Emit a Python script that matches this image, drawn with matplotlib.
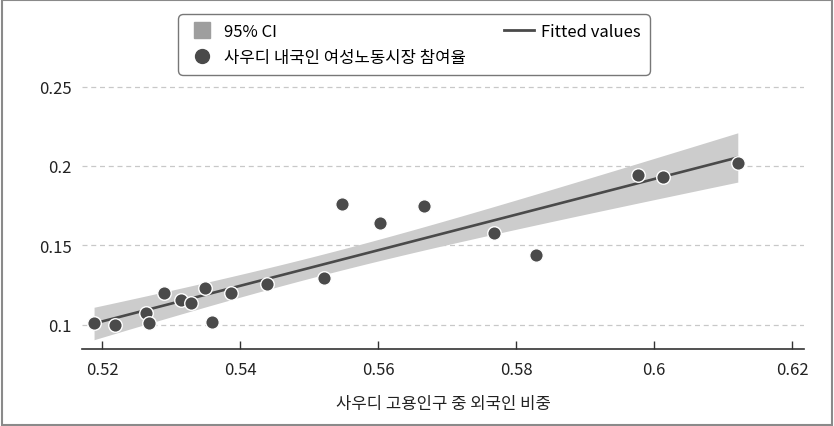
import numpy as np
import matplotlib
matplotlib.use('Agg')
import matplotlib.pyplot as plt
from matplotlib.lines import Line2D
from matplotlib.patches import Rectangle

plt.rcParams['font.family'] = ['Noto Sans CJK KR', 'DejaVu Sans']

# 사우디 고용인구 중 외국인 비중 / 사우디 내국인 여성노동시장 참여율
foreign_share = [0.5188, 0.5218, 0.5263, 0.5268, 0.5289, 0.5314, 0.5329, 0.5349, 0.5359, 0.5386,
                 0.5438, 0.5522, 0.5548, 0.5603, 0.5666, 0.5767, 0.5829, 0.5976, 0.6013, 0.6121]
female_lfp = [0.1011, 0.1000, 0.1076, 0.1009, 0.1199, 0.1152, 0.1136, 0.1233, 0.1013, 0.1197,
              0.1256, 0.1294, 0.1761, 0.1643, 0.1745, 0.1574, 0.1440, 0.1942, 0.1931, 0.2020]

xticks = [0.52, 0.54, 0.56, 0.58, 0.6, 0.62]
xtick_labels = ['0.52', '0.54', '0.56', '0.58', '0.6', '0.62']
yticks = [0.1, 0.15, 0.2, 0.25]
ytick_labels = ['0.1', '0.15', '0.2', '0.25']

x = np.array(foreign_share)
y = np.array(female_lfp)

# OLS fit and 95% CI of the mean prediction
n = len(x)
b1, b0 = np.polyfit(x, y, 1)
resid = y - (b0 + b1 * x)
s = np.sqrt(np.sum(resid ** 2) / (n - 2))
sxx = np.sum((x - x.mean()) ** 2)
t_crit = 2.101  # t(0.975, df=18)
xs = np.linspace(x.min(), x.max(), 100)
fit = b0 + b1 * xs
se = s * np.sqrt(1 / n + (xs - x.mean()) ** 2 / sxx)
lo, hi = fit - t_crit * se, fit + t_crit * se

dark = '#4a4a4a'

fig = plt.figure(figsize=(8.34, 4.27), dpi=100)
ax = fig.add_axes([81.7 / 834, 1 - 350 / 427, (804.3 - 81.7) / 834, (350 - 78) / 427])

ax.fill_between(xs, lo, hi, color='#cccccc', lw=0, zorder=1)
ax.plot(xs, fit, color=dark, lw=1.9, zorder=2)
ax.scatter(x, y, s=95, color=dark, edgecolors='white', linewidths=1.0, zorder=3)

ax.set_xlim(0.51701, 0.62174)
ax.set_ylim(0.0846, 0.256)
ax.set_xticks(xticks)
ax.set_xticklabels(xtick_labels)
ax.set_yticks(yticks)
ax.set_yticklabels(ytick_labels)

for yv in yticks:
    ax.axhline(yv, color='#c8c8c8', lw=0.9, ls=(0, (4, 3)), zorder=0)

for side in ['top', 'right', 'left']:
    ax.spines[side].set_visible(False)
ax.spines['bottom'].set_color('#333333')
ax.spines['bottom'].set_linewidth(1.2)

ax.tick_params(axis='x', direction='in', length=6, width=1, color='#333333',
               labelsize=12, pad=9, labelcolor='#222222')
ax.tick_params(axis='y', length=0, labelsize=12, pad=7, labelcolor='#222222')

ax.set_xlabel('사우디 고용인구 중 외국인 비중', fontsize=12, color='#222222', labelpad=12)

handles = [
    Line2D([], [], marker='s', ls='none', color='#9e9e9e', markersize=11),
    Line2D([], [], marker='o', ls='none', color=dark, markersize=10),
    Line2D([], [], color=dark, lw=2),
]
labels = ['95% CI', '사우디 내국인 여성노동시장 참여율', 'Fitted values']
leg = fig.legend(handles, labels, ncol=2, loc='upper left',
                 bbox_to_anchor=(178 / 834, 1 - 15 / 427), borderaxespad=0,
                 fontsize=12, frameon=True, fancybox=True, handlelength=1.8,
                 handletextpad=0.4, columnspacing=2.3, borderpad=0.55,
                 labelspacing=0.5)
leg.get_frame().set_edgecolor('#555555')
leg.get_frame().set_linewidth(1.0)
leg.get_frame().set_boxstyle('round', pad=0, rounding_size=0.3)

# outer frame around the whole figure
fig.patches.append(Rectangle((0.002, 0.002), 0.996, 0.995, transform=fig.transFigure,
                             fill=False, edgecolor='#8a8a8a', lw=1.5))

fig.savefig('out.png', dpi=100)
